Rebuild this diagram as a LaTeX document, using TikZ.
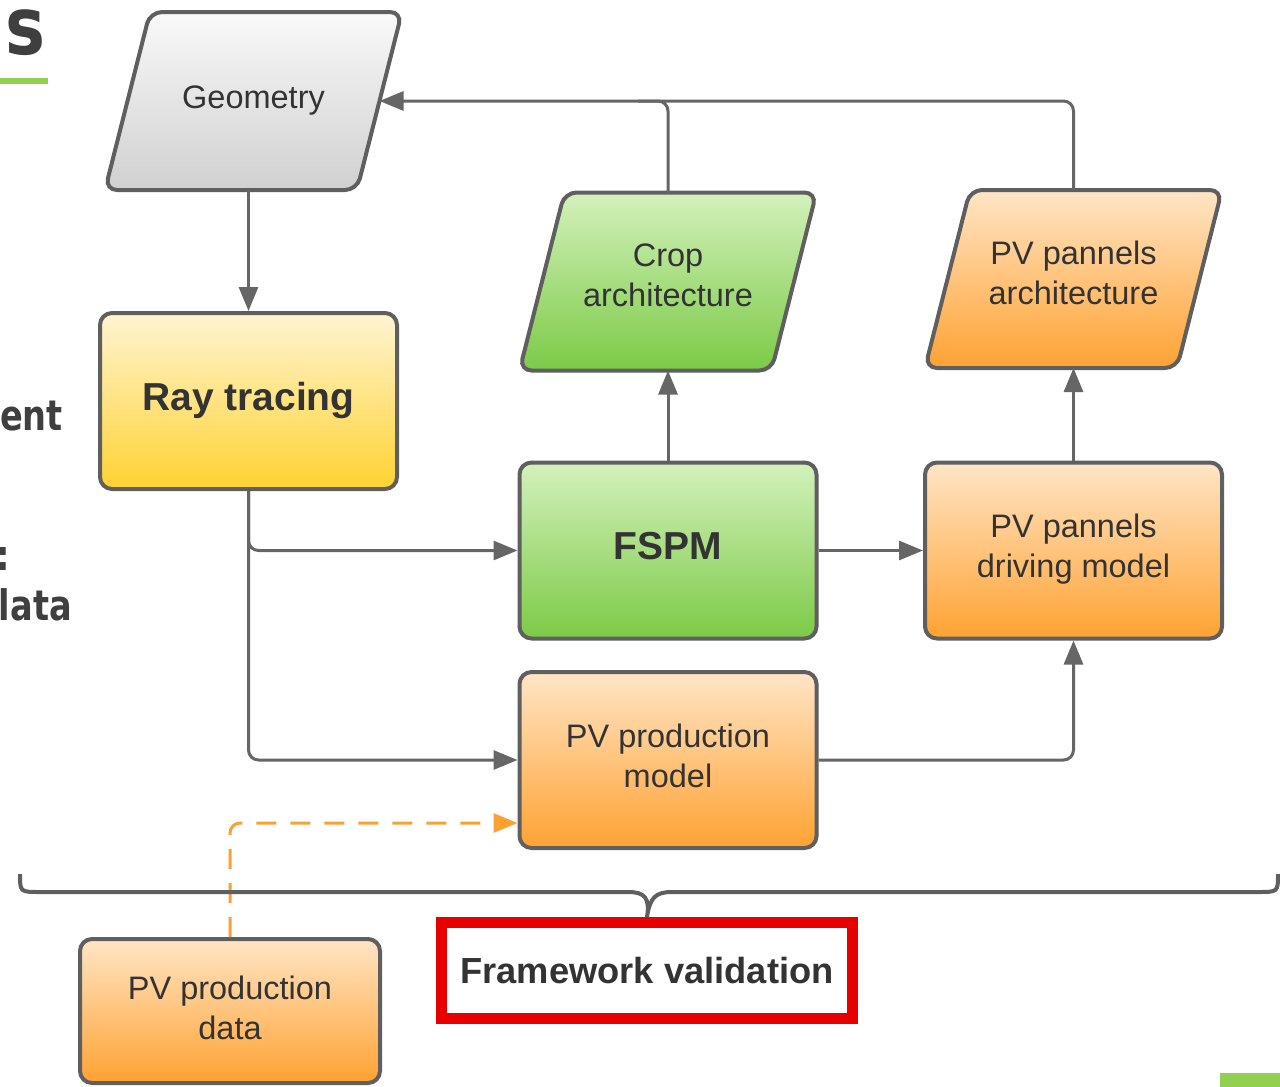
\documentclass[tikz,border=0pt]{standalone}
\usepackage{fontspec}
\setmainfont{Liberation Sans}
\newfontfamily\slidefont{DejaVu Sans}
\usetikzlibrary{arrows.meta,backgrounds}

\definecolor{edge}{HTML}{5F5F5F}
\definecolor{wire}{HTML}{666666}
\definecolor{ink}{HTML}{333333}
\definecolor{slideink}{HTML}{3F3F3F}
\definecolor{accent}{HTML}{92D050}
\definecolor{dashorange}{HTML}{F9A133}
\definecolor{valred}{HTML}{E60000}
\definecolor{grayA}{HTML}{F9F9F9}\definecolor{grayB}{HTML}{D0D0D0}
\definecolor{yelA}{HTML}{FFF4D2}\definecolor{yelB}{HTML}{FFD232}
\definecolor{grnA}{HTML}{D3F1BC}\definecolor{grnB}{HTML}{7CCA46}
\definecolor{orgA}{HTML}{FFE5C6}\definecolor{orgB}{HTML}{FFA232}

\tikzset{
  base/.style={font=\fontsize{32.5}{40}\selectfont, text=ink, align=center, text depth=9pt},
  box/.style={base, draw=edge, line width=4pt, rounded corners=12pt,
              minimum width=297pt, minimum height=176pt, inner sep=0pt},
  slant/.style={base, minimum width=248pt, minimum height=174pt,
                inner sep=0pt, outer sep=2pt, text depth=12pt},
  grayfill/.style={top color=grayA, bottom color=grayB},
  yelfill/.style={top color=yelA, bottom color=yelB},
  grnfill/.style={top color=grnA, bottom color=grnB},
  orgfill/.style={top color=orgA, bottom color=orgB},
  slantline/.style={draw=edge, line width=4pt, rounded corners=12pt},
  plain/.style={draw=wire, line width=3pt, rounded corners=10pt},
  conn/.style={plain, -{Triangle[length=24pt,width=19pt]}},
  dashconn/.style={draw=dashorange, line width=3pt, dash pattern=on 20pt off 14pt,
                   rounded corners=10pt, -{Triangle[length=24pt,width=19pt]}},
  slidetext/.style={font=\slidefont\bfseries\fontsize{42}{50}\selectfont,
                    text=slideink, inner sep=0pt, anchor=base east, xscale=0.8},
}

% parallelogram outline around a named node
\newcommand\slantshape[2]{%
  \path[#2, slantline]
    ([xshift=22.5pt]#1.north west) -- ([xshift=22.5pt]#1.north east) --
    ([xshift=-22.5pt]#1.south east) -- ([xshift=-22.5pt]#1.south west) -- cycle;}

\begin{document}
\begin{tikzpicture}[x=1pt, y=-1pt]
\useasboundingbox (0,0) rectangle (1280,1087);
\clip (0,0) rectangle (1280,1087);

% slide fragments at the edges
\node[slidetext, font=\slidefont\bfseries\fontsize{80}{84}\selectfont, xscale=1.05] (ttl) at (46,54) {s};
\fill[accent] (0,78) rectangle (48,84);
\node[slidetext] (t1) at (63,430) {ent};
\node[slidetext] (t2) at (10,570) {:};
\node[slidetext] (t3) at (72,620) {lata};
\fill[accent] (1220,1073) rectangle (1280,1087);

% flowchart nodes
\node[slant, text depth=8pt] (geo)  at (253.5,101)  {Geometry};
\node[slant] (crop) at (668,281.5)  {Crop\\architecture};
\node[slant] (pva)  at (1073.5,279) {PV pannels\\architecture};
\begin{scope}[on background layer]
  \slantshape{geo}{grayfill}
  \slantshape{crop}{grnfill}
  \slantshape{pva}{orgfill}
\end{scope}

\node[box, yelfill, font=\bfseries\fontsize{39}{46}\selectfont] (rt) at (248.5,401) {Ray tracing};
\node[box, grnfill, font=\bfseries\fontsize{39}{46}\selectfont] (fspm) at (668,550.5) {FSPM};
\node[box, orgfill] (pvd) at (1073.5,550.5) {PV pannels\\driving model};
\node[box, orgfill] (ppm) at (668,760) {PV production\\model};
\node[box, orgfill, minimum width=300pt, minimum height=144pt, text depth=6pt] (ppd) at (230,1011) {PV production\\data};

\node[draw=valred, line width=11pt, minimum width=411pt, minimum height=96pt,
      text=ink, font=\bfseries\fontsize{36.3}{44}\selectfont] (fv) at (647,970.5) {Framework validation};

% connectors
\draw[conn] (geo.south -| rt.north) -- (rt.north);
\draw[conn] (crop.north) |- (geo.east);
\draw[plain] (pva.north) |- ([xshift=-30pt]crop.north |- geo.east);
\draw[conn] (rt.south) |- (fspm.west);
\draw[conn] (rt.south) |- (ppm.west);
\draw[conn] (fspm.north) -- (crop.south);
\draw[conn] (fspm.east) -- (pvd.west);
\draw[conn] (pvd.north) -- (pva.south);
\draw[conn] (ppm.east) -| (pvd.south);
\draw[dashconn] (ppd.north) |- ([yshift=-63pt]ppm.west);

% brace over the validation box
\draw[draw=edge, line width=4pt]
  (20,874) .. controls (20,892) .. (40,892) -- (628,892)
  .. controls (645,892) and (650,898) .. (fv.north)
  .. controls (650,898) and (655,892) .. (672,892) -- (1258,892)
  .. controls (1278,892) .. (1278,874);
\end{tikzpicture}
\end{document}
